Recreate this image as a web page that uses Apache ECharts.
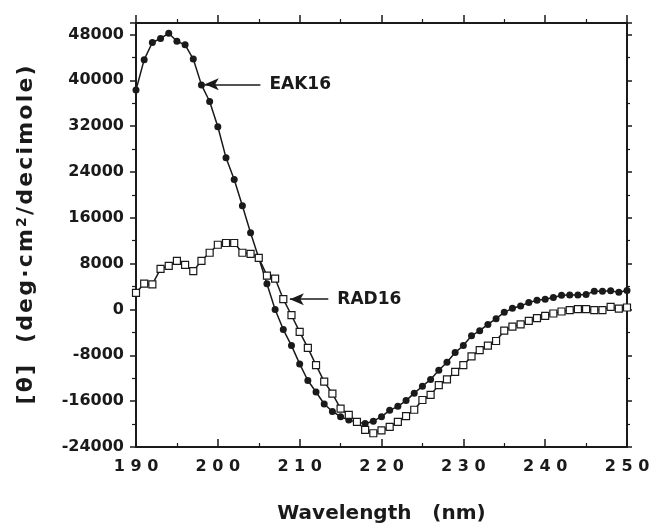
<!DOCTYPE html>
<html>
<head>
<meta charset="utf-8">
<script src="https://cdn.jsdelivr.net/npm/echarts@6/dist/echarts.min.js"></script>
<style>html,body{margin:0;padding:0;background:#fff;}#chart{width:656px;height:529px;}</style>
</head>
<body>
<div id="chart"></div>
<script>
const wavelength = [190,191,192,193,194,195,196,197,198,199,200,201,202,203,204,205,206,207,208,209,210,211,212,213,214,215,216,217,218,219,220,221,222,223,224,225,226,227,228,229,230,231,232,233,234,235,236,237,238,239,240,241,242,243,244,245,246,247,248,249,250];
const eak16 = [38300,43600,46600,47300,48200,46800,46200,43700,39200,36300,31900,26500,22700,18100,13400,9000,4500,0,-3500,-6300,-9500,-12400,-14400,-16500,-17800,-18700,-19300,-19700,-19900,-19500,-18700,-17600,-16900,-15900,-14600,-13400,-12200,-10600,-9200,-7500,-6300,-4600,-3700,-2600,-1600,-500,200,600,1200,1600,1800,2100,2500,2550,2550,2600,3200,3200,3250,3000,3300];
const rad16 = [2900,4500,4400,7100,7600,8500,7800,6700,8500,9900,11300,11600,11600,9900,9700,9000,5900,5400,1800,-1000,-3900,-6700,-9700,-12600,-14700,-17300,-18400,-19600,-21000,-21600,-21100,-20500,-19600,-18600,-17500,-15800,-14900,-13200,-12200,-10900,-9700,-8200,-7100,-6300,-5500,-3700,-3000,-2600,-2000,-1500,-1100,-700,-350,-100,60,60,-100,-100,450,150,350];
const yTicks = [-24000,-16000,-8000,0,8000,16000,24000,32000,40000,48000];
const xTicks = [190,200,210,220,230,240,250];
const eakArrow = {from:[198.4,39300], to:[205.2,39300], text:'EAK16'};
const radArrow = {from:[208.8,1800], to:[213.5,1800], text:'RAD16'};

const FONT = 'DejaVu Sans';
const INK = '#1a1a1a';
const HS = '\u200A';
const spaced = s => s.split('').join(HS);
const chart = echarts.init(document.getElementById('chart'));

function arrowLine(a){
  return {
    silent: true,
    symbol: ['arrow','none'],
    symbolSize: [9,14],
    lineStyle: {color: INK, width: 1.5, type: 'solid'},
    label: {show: true, position: 'end', formatter: a.text, fontFamily: FONT, fontWeight: 'bold', fontSize: 17, color: INK, distance: 9},
    data: [[{coord: a.from}, {coord: a.to}]]
  };
}

const axisLineStyle = {color: INK, width: 2};
chart.setOption({
  animation: false,
  backgroundColor: '#fff',
  grid: {left: 136, right: 29, top: 23, bottom: 78},
  xAxis: [
    {
      type: 'value', min: 190, max: 250, interval: 10, position: 'bottom',
      axisLine: {show: true, onZero: false, lineStyle: axisLineStyle},
      axisTick: {show: true, inside: true, length: 8, lineStyle: {color: INK, width: 1.5}},
      minorTick: {show: true, splitNumber: 2, length: 4, lineStyle: {color: INK, width: 1.2}},
      splitLine: {show: false},
      axisLabel: {
        margin: 12, fontFamily: FONT, fontWeight: 'bold', fontSize: 16, color: INK,
        formatter: v => xTicks.indexOf(v) >= 0 ? String(v).split('').join(' ') : ''
      },
      name: 'Wavelength   (nm)', nameLocation: 'middle', nameGap: 57,
      nameTextStyle: {fontFamily: FONT, fontWeight: 'bold', fontSize: 20, color: INK}
    },
    {
      type: 'value', min: 190, max: 250, interval: 10, position: 'top',
      axisLine: {show: true, onZero: false, lineStyle: axisLineStyle},
      axisTick: {show: true, inside: false, length: 8, lineStyle: {color: INK, width: 1.5}},
      minorTick: {show: true, splitNumber: 2, length: 4, lineStyle: {color: INK, width: 1.2}},
      splitLine: {show: false},
      axisLabel: {show: false}
    }
  ],
  yAxis: [
    {
      type: 'value', min: -24000, max: 50000, interval: 8000, position: 'left',
      axisLine: {show: true, onZero: false, lineStyle: axisLineStyle},
      axisTick: {show: true, inside: false, length: 6, lineStyle: {color: INK, width: 1.5}},
      minorTick: {show: true, splitNumber: 2, length: 4, lineStyle: {color: INK, width: 1.2}},
      splitLine: {show: false},
      axisLabel: {
        margin: 12, fontFamily: FONT, fontWeight: 'bold', fontSize: 16, color: INK,
        formatter: v => yTicks.indexOf(v) >= 0 ? String(v) : ''
      },
      name: spaced('[θ]  (deg·cm') + HS + '{sup|2}' + HS + spaced('/decimole)'),
      nameLocation: 'middle', nameGap: 98, nameRotate: 90,
      nameTextStyle: {
        fontFamily: FONT, fontWeight: 'bold', fontSize: 22, color: INK,
        rich: {sup: {fontFamily: FONT, fontWeight: 'bold', fontSize: 14, color: INK, verticalAlign: 'top', padding: [0,0,9,0]}}
      }
    },
    {
      type: 'value', min: -24000, max: 50000, interval: 8000, position: 'right',
      axisLine: {show: true, onZero: false, lineStyle: axisLineStyle},
      axisTick: {show: true, inside: false, length: 5, lineStyle: {color: INK, width: 1.5}},
      minorTick: {show: true, splitNumber: 2, length: 3, lineStyle: {color: INK, width: 1.2}},
      splitLine: {show: false},
      axisLabel: {show: false}
    }
  ],
  series: [
    {
      name: 'EAK16', type: 'line', xAxisIndex: 0, yAxisIndex: 0,
      data: wavelength.map((w, i) => [w, eak16[i]]),
      symbol: 'circle', symbolSize: 7, showAllSymbol: true,
      itemStyle: {color: INK},
      lineStyle: {color: INK, width: 1.5},
      markLine: arrowLine(eakArrow)
    },
    {
      name: 'RAD16', type: 'line', xAxisIndex: 0, yAxisIndex: 0,
      data: wavelength.map((w, i) => [w, rad16[i]]),
      symbol: 'rect', symbolSize: 7, showAllSymbol: true,
      itemStyle: {color: '#fff', borderColor: INK, borderWidth: 1.2},
      lineStyle: {color: INK, width: 1.5},
      markLine: arrowLine(radArrow)
    }
  ]
});
</script>
</body>
</html>
